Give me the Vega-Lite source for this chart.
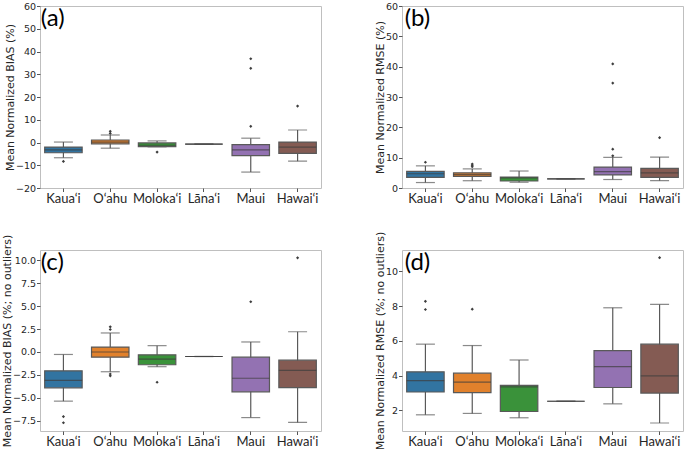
{
  "$schema": "https://vega.github.io/schema/vega-lite/v6.json",
  "padding": {"left": 0, "top": 0, "right": 0, "bottom": 0},
  "columns": 2,
  "bounds": "flush",
  "spacing": {"row": 62, "column": 81},
  "datasets": {
    "box": [
      {"panel": "a", "island": "Kaua‘i", "lo": -6.7, "q1": -4.5, "med": -3.2, "q3": -2.0, "hi": 0.2},
      {"panel": "a", "island": "O‘ahu", "lo": -2.5, "q1": -0.6, "med": 0.2, "q3": 1.1, "hi": 3.3},
      {"panel": "a", "island": "Moloka‘i", "lo": -1.9, "q1": -1.8, "med": -1.2, "q3": -0.2, "hi": 0.7},
      {"panel": "a", "island": "Lāna‘i", "lo": -0.7, "q1": -0.7, "med": -0.7, "q3": -0.7, "hi": -0.7},
      {"panel": "a", "island": "Maui", "lo": -13.0, "q1": -5.8, "med": -3.2, "q3": -0.9, "hi": 1.9},
      {"panel": "a", "island": "Hawai‘i", "lo": -8.2, "q1": -4.8, "med": -2.0, "q3": 0.2, "hi": 5.5},
      {"panel": "b", "island": "Kaua‘i", "lo": 1.8, "q1": 3.5, "med": 4.7, "q3": 5.5, "hi": 7.3},
      {"panel": "b", "island": "O‘ahu", "lo": 2.4, "q1": 3.8, "med": 4.4, "q3": 5.0, "hi": 6.3},
      {"panel": "b", "island": "Moloka‘i", "lo": 1.9, "q1": 2.3, "med": 3.3, "q3": 3.6, "hi": 5.6},
      {"panel": "b", "island": "Lāna‘i", "lo": 3.0, "q1": 3.0, "med": 3.0, "q3": 3.0, "hi": 3.0},
      {"panel": "b", "island": "Maui", "lo": 2.8, "q1": 4.3, "med": 5.4, "q3": 6.9, "hi": 10.1},
      {"panel": "b", "island": "Hawai‘i", "lo": 2.4, "q1": 3.5, "med": 5.0, "q3": 6.5, "hi": 10.2},
      {"panel": "c", "island": "Kaua‘i", "lo": -5.35, "q1": -3.9, "med": -3.1, "q3": -2.05, "hi": -0.27},
      {"panel": "c", "island": "O‘ahu", "lo": -2.15, "q1": -0.57, "med": 0.0, "q3": 0.53, "hi": 2.07},
      {"panel": "c", "island": "Moloka‘i", "lo": -1.6, "q1": -1.39, "med": -0.78, "q3": -0.31, "hi": 0.69},
      {"panel": "c", "island": "Lāna‘i", "lo": -0.49, "q1": -0.49, "med": -0.49, "q3": -0.49, "hi": -0.49},
      {"panel": "c", "island": "Maui", "lo": -7.14, "q1": -4.34, "med": -2.86, "q3": -0.56, "hi": 1.09},
      {"panel": "c", "island": "Hawai‘i", "lo": -7.67, "q1": -3.87, "med": -2.0, "q3": -0.89, "hi": 2.2},
      {"panel": "d", "island": "Kaua‘i", "lo": 1.75, "q1": 3.06, "med": 3.71, "q3": 4.22, "hi": 5.81},
      {"panel": "d", "island": "O‘ahu", "lo": 1.83, "q1": 3.02, "med": 3.63, "q3": 4.14, "hi": 5.73},
      {"panel": "d", "island": "Moloka‘i", "lo": 1.58, "q1": 1.94, "med": 3.35, "q3": 3.44, "hi": 4.9},
      {"panel": "d", "island": "Lāna‘i", "lo": 2.53, "q1": 2.53, "med": 2.53, "q3": 2.53, "hi": 2.53},
      {"panel": "d", "island": "Maui", "lo": 2.38, "q1": 3.32, "med": 4.52, "q3": 5.44, "hi": 7.9},
      {"panel": "d", "island": "Hawai‘i", "lo": 1.28, "q1": 3.0, "med": 3.99, "q3": 5.81, "hi": 8.09}
    ],
    "out": [
      {"panel": "a", "island": "Kaua‘i", "v": -8.3},
      {"panel": "a", "island": "O‘ahu", "v": 4.0},
      {"panel": "a", "island": "O‘ahu", "v": 4.9},
      {"panel": "a", "island": "Moloka‘i", "v": -4.2},
      {"panel": "a", "island": "Maui", "v": 36.8},
      {"panel": "a", "island": "Maui", "v": 32.6},
      {"panel": "a", "island": "Maui", "v": 7.1},
      {"panel": "a", "island": "Hawai‘i", "v": 16.0},
      {"panel": "b", "island": "Kaua‘i", "v": 8.5},
      {"panel": "b", "island": "O‘ahu", "v": 7.0},
      {"panel": "b", "island": "O‘ahu", "v": 7.5},
      {"panel": "b", "island": "O‘ahu", "v": 7.9},
      {"panel": "b", "island": "Maui", "v": 10.6},
      {"panel": "b", "island": "Maui", "v": 12.8},
      {"panel": "b", "island": "Maui", "v": 34.6},
      {"panel": "b", "island": "Maui", "v": 40.9},
      {"panel": "b", "island": "Hawai‘i", "v": 16.6},
      {"panel": "c", "island": "Kaua‘i", "v": -7.03},
      {"panel": "c", "island": "Kaua‘i", "v": -7.7},
      {"panel": "c", "island": "O‘ahu", "v": 2.45},
      {"panel": "c", "island": "O‘ahu", "v": 2.74},
      {"panel": "c", "island": "O‘ahu", "v": -2.4},
      {"panel": "c", "island": "O‘ahu", "v": -2.6},
      {"panel": "c", "island": "Moloka‘i", "v": -3.29},
      {"panel": "c", "island": "Maui", "v": 5.47},
      {"panel": "c", "island": "Hawai‘i", "v": 10.25},
      {"panel": "d", "island": "Kaua‘i", "v": 7.8},
      {"panel": "d", "island": "Kaua‘i", "v": 8.27},
      {"panel": "d", "island": "O‘ahu", "v": 7.82},
      {"panel": "d", "island": "Hawai‘i", "v": 10.78}
    ],
    "lab": [
      {"panel": "a", "label": "(a)"},
      {"panel": "b", "label": "(b)"},
      {"panel": "c", "label": "(c)"},
      {"panel": "d", "label": "(d)"}
    ]
  },
  "concat": [
    {
      "width": 281, "height": 182,
      "encoding": {"x": {"field": "island", "type": "nominal", "sort": ["Kaua‘i", "O‘ahu", "Moloka‘i", "Lāna‘i", "Maui", "Hawai‘i"], "scale": {"domain": ["Kaua‘i", "O‘ahu", "Moloka‘i", "Lāna‘i", "Maui", "Hawai‘i"], "paddingInner": 0.2, "paddingOuter": 0.1}}},
      "layer": [
        {"data": {"name": "box"}, "transform": [{"filter": "datum.panel === 'a'"}], "mark": {"type": "rule", "color": "#595959", "strokeWidth": 1.2},
         "encoding": {"y": {"field": "lo", "type": "quantitative", "scale": {"domain": [-20, 60], "nice": false, "zero": false}, "axis": {"values": [-20, -10, 0, 10, 20, 30, 40, 50, 60], "tickCount": 20, "format": "d", "title": "Mean Normalized BIAS (%)"}}, "y2": {"field": "hi"}}},
        {"data": {"name": "box"}, "transform": [{"filter": "datum.panel === 'a'"}], "mark": {"type": "tick", "color": "#595959", "size": 19, "thickness": 1.2}, "encoding": {"y": {"field": "lo", "type": "quantitative"}}},
        {"data": {"name": "box"}, "transform": [{"filter": "datum.panel === 'a'"}], "mark": {"type": "tick", "color": "#595959", "size": 19, "thickness": 1.2}, "encoding": {"y": {"field": "hi", "type": "quantitative"}}},
        {"data": {"name": "box"}, "transform": [{"filter": "datum.panel === 'a'"}], "mark": {"type": "bar", "stroke": "#595959", "strokeWidth": 1.2}, "encoding": {"y": {"field": "q1", "type": "quantitative"}, "y2": {"field": "q3"}, "color": {"field": "island", "type": "nominal", "scale": {"domain": ["Kaua‘i", "O‘ahu", "Moloka‘i", "Lāna‘i", "Maui", "Hawai‘i"], "range": ["#3274a1", "#e1812c", "#3a923a", "#c03d3e", "#9372b2", "#845b53"]}, "legend": null}}},
        {"data": {"name": "box"}, "transform": [{"filter": "datum.panel === 'a'"}], "mark": {"type": "tick", "color": "#3d3d3d", "size": 37.5, "thickness": 1.2}, "encoding": {"y": {"field": "med", "type": "quantitative"}}},
        {"data": {"name": "out"}, "transform": [{"filter": "datum.panel === 'a'"}], "mark": {"type": "point", "shape": "diamond", "filled": true, "color": "#3d3d3d", "size": 10, "opacity": 1}, "encoding": {"y": {"field": "v", "type": "quantitative"}}},
        {"data": {"name": "lab"}, "transform": [{"filter": "datum.panel === 'a'"}], "mark": {"type": "text", "font": "Lato", "fontSize": 24, "align": "left", "baseline": "top", "dx": -4, "dy": 1, "color": "#000000"}, "encoding": {"x": {"datum": "Kaua‘i", "bandPosition": 0}, "y": {"datum": 60}, "text": {"field": "label"}}}
      ]
    },
    {
      "width": 281, "height": 182,
      "encoding": {"x": {"field": "island", "type": "nominal", "sort": ["Kaua‘i", "O‘ahu", "Moloka‘i", "Lāna‘i", "Maui", "Hawai‘i"], "scale": {"domain": ["Kaua‘i", "O‘ahu", "Moloka‘i", "Lāna‘i", "Maui", "Hawai‘i"], "paddingInner": 0.2, "paddingOuter": 0.1}}},
      "layer": [
        {"data": {"name": "box"}, "transform": [{"filter": "datum.panel === 'b'"}], "mark": {"type": "rule", "color": "#595959", "strokeWidth": 1.2},
         "encoding": {"y": {"field": "lo", "type": "quantitative", "scale": {"domain": [0, 60], "nice": false, "zero": false}, "axis": {"values": [0, 10, 20, 30, 40, 50, 60], "tickCount": 20, "format": "d", "title": "Mean Normalized RMSE (%)"}}, "y2": {"field": "hi"}}},
        {"data": {"name": "box"}, "transform": [{"filter": "datum.panel === 'b'"}], "mark": {"type": "tick", "color": "#595959", "size": 19, "thickness": 1.2}, "encoding": {"y": {"field": "lo", "type": "quantitative"}}},
        {"data": {"name": "box"}, "transform": [{"filter": "datum.panel === 'b'"}], "mark": {"type": "tick", "color": "#595959", "size": 19, "thickness": 1.2}, "encoding": {"y": {"field": "hi", "type": "quantitative"}}},
        {"data": {"name": "box"}, "transform": [{"filter": "datum.panel === 'b'"}], "mark": {"type": "bar", "stroke": "#595959", "strokeWidth": 1.2}, "encoding": {"y": {"field": "q1", "type": "quantitative"}, "y2": {"field": "q3"}, "color": {"field": "island", "type": "nominal", "scale": {"domain": ["Kaua‘i", "O‘ahu", "Moloka‘i", "Lāna‘i", "Maui", "Hawai‘i"], "range": ["#3274a1", "#e1812c", "#3a923a", "#c03d3e", "#9372b2", "#845b53"]}, "legend": null}}},
        {"data": {"name": "box"}, "transform": [{"filter": "datum.panel === 'b'"}], "mark": {"type": "tick", "color": "#3d3d3d", "size": 37.5, "thickness": 1.2}, "encoding": {"y": {"field": "med", "type": "quantitative"}}},
        {"data": {"name": "out"}, "transform": [{"filter": "datum.panel === 'b'"}], "mark": {"type": "point", "shape": "diamond", "filled": true, "color": "#3d3d3d", "size": 10, "opacity": 1}, "encoding": {"y": {"field": "v", "type": "quantitative"}}},
        {"data": {"name": "lab"}, "transform": [{"filter": "datum.panel === 'b'"}], "mark": {"type": "text", "font": "Lato", "fontSize": 24, "align": "left", "baseline": "top", "dx": -2, "dy": 1, "color": "#000000"}, "encoding": {"x": {"datum": "Kaua‘i", "bandPosition": 0}, "y": {"datum": 60}, "text": {"field": "label"}}}
      ]
    },
    {
      "width": 281, "height": 181,
      "encoding": {"x": {"field": "island", "type": "nominal", "sort": ["Kaua‘i", "O‘ahu", "Moloka‘i", "Lāna‘i", "Maui", "Hawai‘i"], "scale": {"domain": ["Kaua‘i", "O‘ahu", "Moloka‘i", "Lāna‘i", "Maui", "Hawai‘i"], "paddingInner": 0.2, "paddingOuter": 0.1}}},
      "layer": [
        {"data": {"name": "box"}, "transform": [{"filter": "datum.panel === 'c'"}], "mark": {"type": "rule", "color": "#595959", "strokeWidth": 1.2},
         "encoding": {"y": {"field": "lo", "type": "quantitative", "scale": {"domain": [-8.6, 11.1], "nice": false, "zero": false}, "axis": {"values": [-7.5, -5, -2.5, 0, 2.5, 5, 7.5, 10], "tickCount": 20, "format": ".1f", "title": "Mean Normalized BIAS (%; no outliers)"}}, "y2": {"field": "hi"}}},
        {"data": {"name": "box"}, "transform": [{"filter": "datum.panel === 'c'"}], "mark": {"type": "tick", "color": "#595959", "size": 19, "thickness": 1.2}, "encoding": {"y": {"field": "lo", "type": "quantitative"}}},
        {"data": {"name": "box"}, "transform": [{"filter": "datum.panel === 'c'"}], "mark": {"type": "tick", "color": "#595959", "size": 19, "thickness": 1.2}, "encoding": {"y": {"field": "hi", "type": "quantitative"}}},
        {"data": {"name": "box"}, "transform": [{"filter": "datum.panel === 'c'"}], "mark": {"type": "bar", "stroke": "#595959", "strokeWidth": 1.2}, "encoding": {"y": {"field": "q1", "type": "quantitative"}, "y2": {"field": "q3"}, "color": {"field": "island", "type": "nominal", "scale": {"domain": ["Kaua‘i", "O‘ahu", "Moloka‘i", "Lāna‘i", "Maui", "Hawai‘i"], "range": ["#3274a1", "#e1812c", "#3a923a", "#c03d3e", "#9372b2", "#845b53"]}, "legend": null}}},
        {"data": {"name": "box"}, "transform": [{"filter": "datum.panel === 'c'"}], "mark": {"type": "tick", "color": "#3d3d3d", "size": 37.5, "thickness": 1.2}, "encoding": {"y": {"field": "med", "type": "quantitative"}}},
        {"data": {"name": "out"}, "transform": [{"filter": "datum.panel === 'c'"}], "mark": {"type": "point", "shape": "diamond", "filled": true, "color": "#3d3d3d", "size": 10, "opacity": 1}, "encoding": {"y": {"field": "v", "type": "quantitative"}}},
        {"data": {"name": "lab"}, "transform": [{"filter": "datum.panel === 'c'"}], "mark": {"type": "text", "font": "Lato", "fontSize": 24, "align": "left", "baseline": "top", "dx": -4, "dy": 1, "color": "#000000"}, "encoding": {"x": {"datum": "Kaua‘i", "bandPosition": 0}, "y": {"datum": 11.1}, "text": {"field": "label"}}}
      ]
    },
    {
      "width": 281, "height": 181,
      "encoding": {"x": {"field": "island", "type": "nominal", "sort": ["Kaua‘i", "O‘ahu", "Moloka‘i", "Lāna‘i", "Maui", "Hawai‘i"], "scale": {"domain": ["Kaua‘i", "O‘ahu", "Moloka‘i", "Lāna‘i", "Maui", "Hawai‘i"], "paddingInner": 0.2, "paddingOuter": 0.1}}},
      "layer": [
        {"data": {"name": "box"}, "transform": [{"filter": "datum.panel === 'd'"}], "mark": {"type": "rule", "color": "#595959", "strokeWidth": 1.2},
         "encoding": {"y": {"field": "lo", "type": "quantitative", "scale": {"domain": [0.82, 11.22], "nice": false, "zero": false}, "axis": {"values": [2, 4, 6, 8, 10], "tickCount": 20, "format": "d", "title": "Mean Normalized RMSE (%; no outliers)"}}, "y2": {"field": "hi"}}},
        {"data": {"name": "box"}, "transform": [{"filter": "datum.panel === 'd'"}], "mark": {"type": "tick", "color": "#595959", "size": 19, "thickness": 1.2}, "encoding": {"y": {"field": "lo", "type": "quantitative"}}},
        {"data": {"name": "box"}, "transform": [{"filter": "datum.panel === 'd'"}], "mark": {"type": "tick", "color": "#595959", "size": 19, "thickness": 1.2}, "encoding": {"y": {"field": "hi", "type": "quantitative"}}},
        {"data": {"name": "box"}, "transform": [{"filter": "datum.panel === 'd'"}], "mark": {"type": "bar", "stroke": "#595959", "strokeWidth": 1.2}, "encoding": {"y": {"field": "q1", "type": "quantitative"}, "y2": {"field": "q3"}, "color": {"field": "island", "type": "nominal", "scale": {"domain": ["Kaua‘i", "O‘ahu", "Moloka‘i", "Lāna‘i", "Maui", "Hawai‘i"], "range": ["#3274a1", "#e1812c", "#3a923a", "#c03d3e", "#9372b2", "#845b53"]}, "legend": null}}},
        {"data": {"name": "box"}, "transform": [{"filter": "datum.panel === 'd'"}], "mark": {"type": "tick", "color": "#3d3d3d", "size": 37.5, "thickness": 1.2}, "encoding": {"y": {"field": "med", "type": "quantitative"}}},
        {"data": {"name": "out"}, "transform": [{"filter": "datum.panel === 'd'"}], "mark": {"type": "point", "shape": "diamond", "filled": true, "color": "#3d3d3d", "size": 10, "opacity": 1}, "encoding": {"y": {"field": "v", "type": "quantitative"}}},
        {"data": {"name": "lab"}, "transform": [{"filter": "datum.panel === 'd'"}], "mark": {"type": "text", "font": "Lato", "fontSize": 24, "align": "left", "baseline": "top", "dx": -2, "dy": 1, "color": "#000000"}, "encoding": {"x": {"datum": "Kaua‘i", "bandPosition": 0}, "y": {"datum": 11.22}, "text": {"field": "label"}}}
      ]
    }
  ],
  "config": {
    "view": {"stroke": "#bfbfbf", "strokeWidth": 1},
    "axis": {"grid": false, "domain": false, "tickColor": "#555555", "tickSize": 3.5, "labelColor": "#262626", "titleColor": "#262626"},
    "axisY": {"labelFont": "DejaVu Sans", "labelFontSize": 9.5, "labelOverlap": false, "titleFont": "DejaVu Sans", "titleFontSize": 11, "titleFontWeight": "normal", "labelPadding": 1, "titlePadding": 0},
    "axisX": {"labelFont": "Lato", "labelFontSize": 13, "labelAngle": 0, "title": null, "labelPadding": 1}
  }
}
